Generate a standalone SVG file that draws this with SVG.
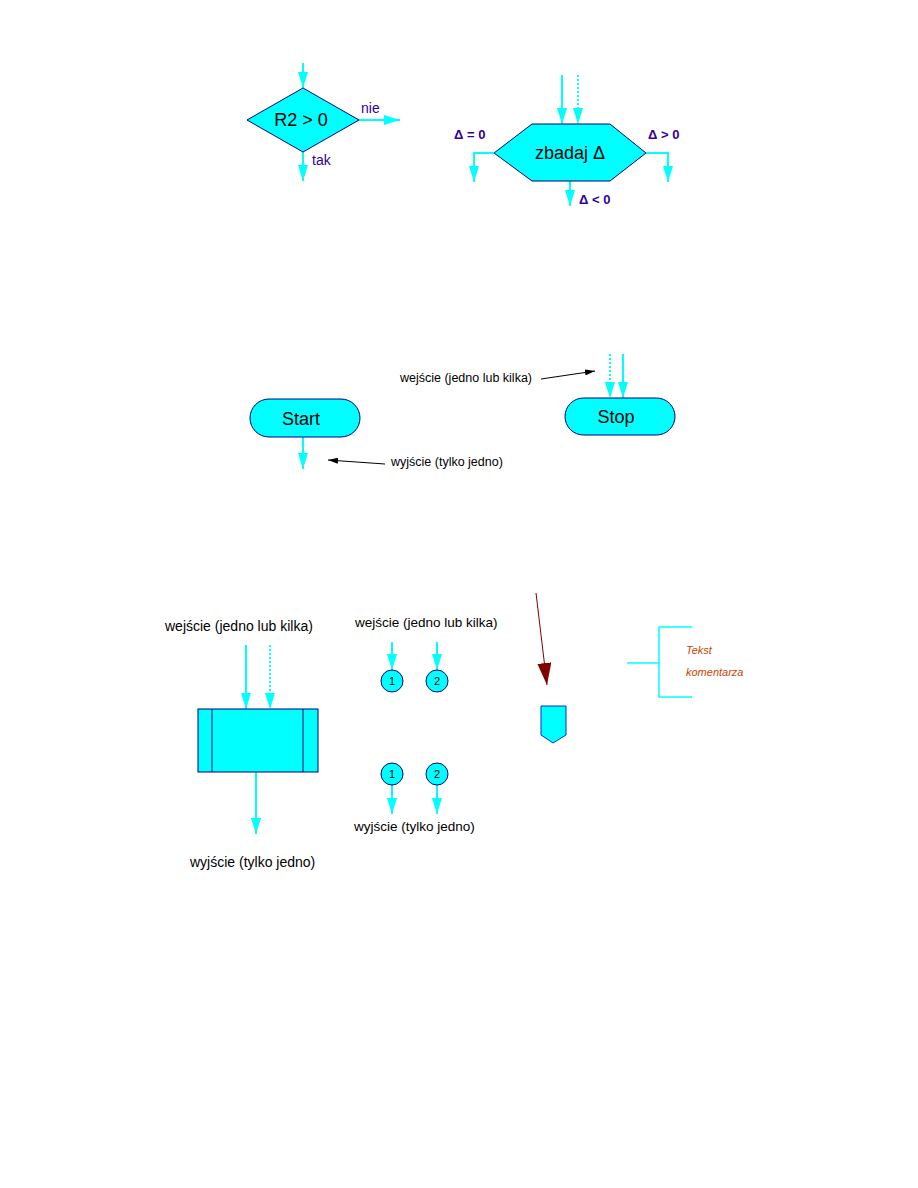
<svg xmlns="http://www.w3.org/2000/svg" width="918" height="1188" viewBox="0 0 918 1188">
<style>
.shape{fill:#00ffff;stroke:#000080;stroke-width:1}
.flow{fill:none;stroke:#00ffff;stroke-width:2}
.dot{stroke-dasharray:2,2}
.lbl{font-family:"Liberation Sans",Arial,sans-serif;fill:#000}
.pur{font-family:"Liberation Sans",Arial,sans-serif;fill:#330099}
.note{fill:none;stroke:#000;stroke-width:1}
</style>
<defs>
<marker id="ac" viewBox="0 0 16 10" refX="16" refY="5" markerWidth="16" markerHeight="10" markerUnits="userSpaceOnUse" orient="auto"><path d="M0,0 L16,5 L0,10 z" fill="#00ffff"/></marker>
<marker id="ab" viewBox="0 0 10 6" refX="10" refY="3" markerWidth="10" markerHeight="6" markerUnits="userSpaceOnUse" orient="auto"><path d="M0,0 L10,3 L0,6 z" fill="#000"/></marker>
<marker id="ar" viewBox="0 0 22 14" refX="22" refY="7" markerWidth="22" markerHeight="14" markerUnits="userSpaceOnUse" orient="auto"><path d="M0,0 L22,7 L0,14 z" fill="#800000"/></marker>
</defs>
<rect width="918" height="1188" fill="#fff"/>

<g id="connectors">
<line class="flow" x1="303" y1="63" x2="303" y2="88" marker-end="url(#ac)"/>
<line class="flow" x1="359" y1="120" x2="400" y2="120" marker-end="url(#ac)"/>
<line class="flow" x1="303" y1="152" x2="303" y2="181" marker-end="url(#ac)"/>
<line class="flow" x1="562" y1="75" x2="562" y2="124" marker-end="url(#ac)"/>
<line class="flow dot" x1="578" y1="75" x2="578" y2="124" marker-end="url(#ac)"/>
<polyline class="flow" points="494,153 474,153 474,182" marker-end="url(#ac)"/>
<polyline class="flow" points="646,153 668,153 668,182" marker-end="url(#ac)"/>
<line class="flow" x1="570" y1="181" x2="570" y2="206" marker-end="url(#ac)"/>
<line class="flow" x1="303" y1="437" x2="303" y2="469" marker-end="url(#ac)"/>
<line class="flow dot" x1="610" y1="354" x2="610" y2="398" marker-end="url(#ac)"/>
<line class="flow" x1="623" y1="354" x2="623" y2="398" marker-end="url(#ac)"/>
<line class="note" x1="541" y1="379" x2="595" y2="371" marker-end="url(#ab)"/>
<line class="note" x1="385" y1="464" x2="328" y2="460" marker-end="url(#ab)"/>
<line class="flow" x1="246" y1="645" x2="246" y2="709" marker-end="url(#ac)"/>
<line class="flow dot" x1="270" y1="645" x2="270" y2="709" marker-end="url(#ac)"/>
<line class="flow" x1="256" y1="772" x2="256" y2="834" marker-end="url(#ac)"/>
<line class="flow" x1="392" y1="642" x2="392" y2="670" marker-end="url(#ac)"/>
<line class="flow" x1="437" y1="642" x2="437" y2="670" marker-end="url(#ac)"/>
<line class="flow" x1="392" y1="785" x2="392" y2="814" marker-end="url(#ac)"/>
<line class="flow" x1="437" y1="785" x2="437" y2="814" marker-end="url(#ac)"/>
<line x1="536" y1="593" x2="547" y2="685" stroke="#800000" stroke-width="1" marker-end="url(#ar)"/>
</g>

<g id="decision">
<polygon class="shape" points="303,88 359,120 303,152 247,120"/>
<text class="lbl" x="301" y="126" font-size="18" text-anchor="middle">R2 &gt; 0</text>
<text class="pur" x="361" y="113" font-size="14">nie</text>
<text class="pur" x="312" y="165" font-size="14">tak</text>
</g>

<g id="switch">
<polygon class="shape" points="494,153 532,124 610,124 646,153 610,181 532,181"/>
<text class="lbl" x="570" y="159" font-size="18" text-anchor="middle">zbadaj Δ</text>
<text class="pur" x="454" y="139" font-size="13" font-weight="bold">Δ = 0</text>
<text class="pur" x="648" y="139" font-size="13" font-weight="bold">Δ &gt; 0</text>
<text class="pur" x="579" y="204" font-size="13" font-weight="bold">Δ &lt; 0</text>
</g>

<g id="start">
<rect class="shape" x="250" y="399" width="110" height="38" rx="19"/>
<text class="lbl" x="301" y="425" font-size="18" text-anchor="middle">Start</text>
</g>

<g id="stop">
<rect class="shape" x="565" y="398" width="110" height="37" rx="18.5"/>
<text class="lbl" x="616" y="423" font-size="18" text-anchor="middle">Stop</text>
</g>

<g id="start-stop-notes">
<text class="lbl" x="400" y="382" font-size="12.5">wejście (jedno lub kilka)</text>
<text class="lbl" x="391" y="466" font-size="12.5">wyjście (tylko jedno)</text>
</g>

<g id="process">
<rect class="shape" x="198" y="709" width="120" height="63"/>
<line x1="212" y1="709" x2="212" y2="772" stroke="#000080" stroke-width="1"/>
<line x1="303" y1="709" x2="303" y2="772" stroke="#000080" stroke-width="1"/>
<text class="lbl" x="165" y="631" font-size="14">wejście (jedno lub kilka)</text>
<text class="lbl" x="190" y="867" font-size="14">wyjście (tylko jedno)</text>
</g>

<g id="connector-in-1">
<circle class="shape" cx="392" cy="681" r="11"/>
<text class="lbl" x="392" y="685" font-size="11" text-anchor="middle">1</text>
</g>
<g id="connector-in-2">
<circle class="shape" cx="437" cy="681" r="11"/>
<text class="lbl" x="437" y="685" font-size="11" text-anchor="middle">2</text>
</g>
<g id="connector-out-1">
<circle class="shape" cx="392" cy="774" r="11"/>
<text class="lbl" x="392" y="778" font-size="11" text-anchor="middle">1</text>
</g>
<g id="connector-out-2">
<circle class="shape" cx="437" cy="774" r="11"/>
<text class="lbl" x="437" y="778" font-size="11" text-anchor="middle">2</text>
</g>
<g id="connector-notes">
<text class="lbl" x="355" y="627" font-size="13.5">wejście (jedno lub kilka)</text>
<text class="lbl" x="354" y="831" font-size="13.5">wyjście (tylko jedno)</text>
</g>

<g id="offpage">
<polygon points="541,706 566,706 566,735 553,743 541,735" fill="#00ffff" stroke="#0033cc" stroke-width="1"/>
</g>

<g id="comment">
<polyline points="627,663 659,663" fill="none" stroke="#00ffff" stroke-width="1.5"/>
<polyline points="692,627 659,627 659,697 692,697" fill="none" stroke="#00ffff" stroke-width="1.5"/>
<text x="686" y="654" font-family="Liberation Sans,Arial,sans-serif" font-size="11" font-style="italic" fill="#cc4400">Tekst</text>
<text x="686" y="676" font-family="Liberation Sans,Arial,sans-serif" font-size="11" font-style="italic" fill="#cc4400">komentarza</text>
</g>
</svg>
